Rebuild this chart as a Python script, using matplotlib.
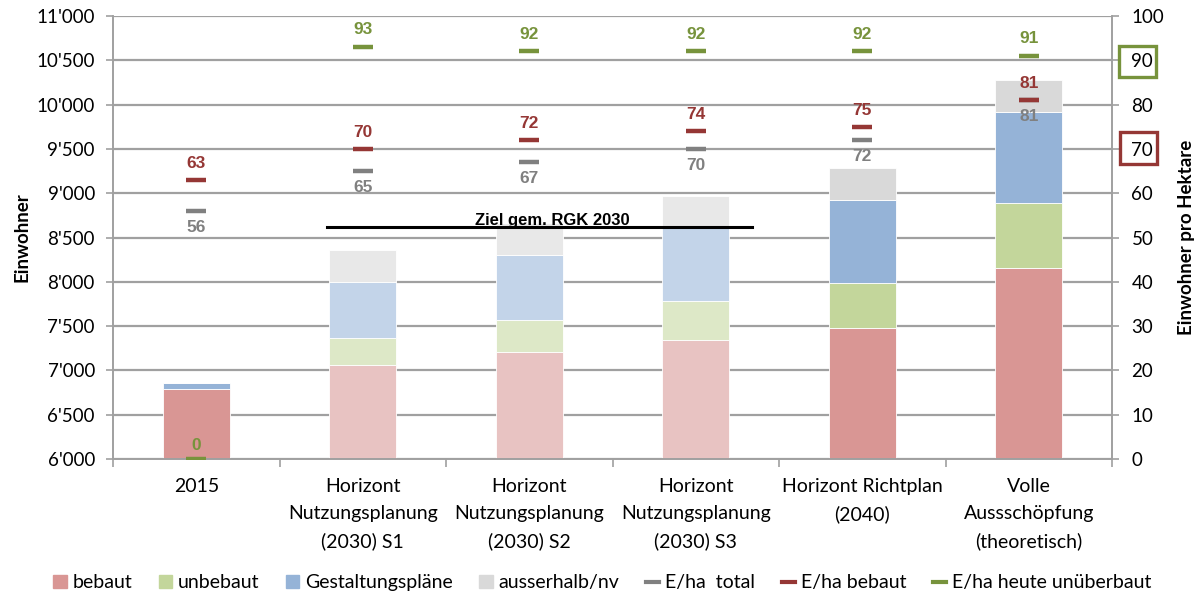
#!/usr/bin/env python3
"""
Einwohner-Szenarien: gestapelte Balken + E/ha Marker
"""

import matplotlib.pyplot as plt
import matplotlib.ticker as mticker
from matplotlib.lines import Line2D
from matplotlib.patches import Patch, Rectangle
import numpy as np

plt.rcParams["font.family"] = ["Lato", "DejaVu Sans"]

# Data
categories = [
    "2015",
    "Horizont\nNutzungsplanung\n(2030) S1",
    "Horizont\nNutzungsplanung\n(2030) S2",
    "Horizont\nNutzungsplanung\n(2030) S3",
    "Horizont Richtplan\n(2040)",
    "Volle\nAussschöpfung\n(theoretisch)",
]
bebaut = [6790, 7065, 7208, 7343, 7482, 8160]
unbebaut = [0, 301, 365, 440, 508, 733]
gestaltung = [65, 635, 732, 839, 933, 1027]
ausserhalb = [0, 358, 355, 346, 361, 358]

eha_total = [56, 65, 67, 70, 72, 81]
eha_bebaut = [63, 70, 72, 74, 75, 81]
eha_unueberbaut = [0, 93, 92, 92, 92, 91]

ziel_rgk = 8622
ziel_label = "Ziel gem. RGK 2030"

# Styles
col_dark = ["#D99694", "#C3D69B", "#95B3D7", "#D9D9D9"]
col_light = ["#E8C3C2", "#DDE8C7", "#C3D4E9", "#E8E8E8"]
light_idx = [1, 2, 3]
c_total = "#808080"
c_bebaut = "#953735"
c_green = "#77933C"
grid_c = "#A0A0A0"

fig = plt.figure(figsize=(12, 5.99), dpi=100)
ax = fig.add_axes([0.0942, 0.2337, 0.8325, 0.7396])
ax2 = ax.twinx()

x = np.arange(len(categories))
bw = 0.40
series = [bebaut, unbebaut, gestaltung, ausserhalb]
bottom = np.zeros(len(x))
for s_i, vals in enumerate(series):
    vals = np.array(vals, dtype=float)
    colors = [col_light[s_i] if i in light_idx else col_dark[s_i] for i in x]
    ax.bar(x, vals, bw, bottom=bottom, color=colors, edgecolor="white",
           linewidth=0.6, zorder=2)
    bottom = bottom + vals
ax.set_ylim(6000, 11000)

# Target line
ax.plot([0.785, 3.338], [ziel_rgk, ziel_rgk], color="black", lw=2.2, zorder=5)
ax.text(2.14, ziel_rgk + 20, ziel_label, ha="center", va="baseline",
        fontsize=12, fontweight="bold", family=["Liberation Sans"], zorder=6)

# Axes styling
ax.set_xlim(-0.5, len(x) - 0.5)
ax.yaxis.set_major_locator(mticker.MultipleLocator(500))
ax.yaxis.set_major_formatter(
    mticker.FuncFormatter(lambda v, p: f"{int(v):,}".replace(",", "'")))
ax.set_axisbelow(True)
ax.grid(axis="y", color=grid_c, lw=1.6, zorder=0)
ax.set_xticks(np.arange(-0.5, len(x), 1.0))
ax.set_xticklabels([])
ax.set_xticks(x, minor=True)
ax.set_xticklabels(categories, minor=True, fontsize=14, linespacing=1.68)
ax.tick_params(axis="x", which="major", length=6, color=grid_c, width=1.2)
ax.tick_params(axis="x", which="minor", length=0, pad=14)
ax.tick_params(axis="y", length=5, color=grid_c, width=1.2, labelsize=13.5, pad=8)
ax.set_ylabel("Einwohner", fontsize=13.5, fontweight="bold", labelpad=4)

ax2.set_ylim(0, 100)
ax2.yaxis.set_major_locator(mticker.MultipleLocator(10))
ax2.tick_params(axis="y", length=5, color=grid_c, width=1.2, labelsize=13.5, pad=9)
ax2.set_ylabel("Einwohner pro Hektare", fontsize=13.5, fontweight="bold",
               labelpad=10)

for a in (ax, ax2):
    a.spines["top"].set_visible(False)
    for side in ("left", "right", "bottom"):
        a.spines[side].set_color(grid_c)
        a.spines[side].set_linewidth(1.2)

# Markers with labels
mk = dict(linestyle="none", marker="_", ms=14.5, mew=3.2, zorder=4)
ax2.plot(x, eha_total, color=c_total, **mk)
ax2.plot(x, eha_bebaut, color=c_bebaut, **mk)
ax2.plot(x, eha_unueberbaut, color=c_green, **mk)

lab = dict(ha="center", va="center", fontsize=12.5, fontweight="bold",
           family=["Liberation Sans"], textcoords="offset points")
for i in x:
    ax2.annotate(str(eha_total[i]), (i, eha_total[i]), xytext=(0, -12),
                 color=c_total, **lab)
    ax2.annotate(str(eha_bebaut[i]), (i, eha_bebaut[i]), xytext=(0, 12),
                 color=c_bebaut, **lab)
    ax2.annotate(str(eha_unueberbaut[i]), (i, eha_unueberbaut[i]),
                 xytext=(0, 12.5 if eha_unueberbaut[i] else 9.5),
                 color=c_green, **lab)

# Highlight boxes on right axis
fig.patches.append(Rectangle((1119 / 1200, 1 - 77 / 599), 37 / 1200, 31 / 599,
                             transform=fig.transFigure, fill=False,
                             edgecolor=c_green, lw=2.4))
fig.patches.append(Rectangle((1120 / 1200, 1 - 164 / 599), 37 / 1200, 32 / 599,
                             transform=fig.transFigure, fill=False,
                             edgecolor=c_bebaut, lw=2.4))

# Legend
handles = [
    Patch(color=col_dark[0], label="bebaut"),
    Patch(color=col_dark[1], label="unbebaut"),
    Patch(color=col_dark[2], label="Gestaltungspläne"),
    Patch(color=col_dark[3], label="ausserhalb/nv"),
    Line2D([], [], color=c_total, lw=3, label="E/ha  total"),
    Line2D([], [], color=c_bebaut, lw=3, label="E/ha bebaut"),
    Line2D([], [], color=c_green, lw=3, label="E/ha heute unüberbaut"),
]
fig.legend(handles=handles, loc="center", bbox_to_anchor=(0.502, 0.027),
           ncol=7, frameon=False, fontsize=14, handlelength=0.7,
           handleheight=0.7, handletextpad=0.3, columnspacing=1.35)

fig.savefig("out.png", dpi=100)
